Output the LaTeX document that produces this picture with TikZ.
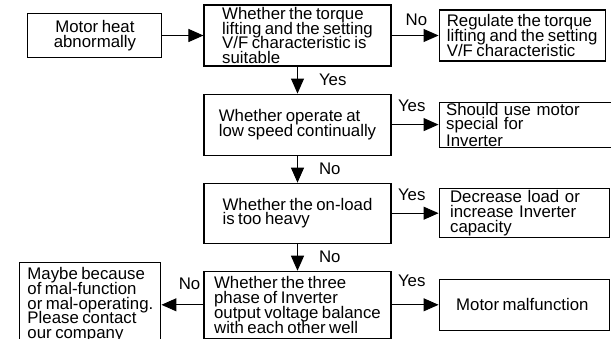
\documentclass[tikz,border=0pt]{standalone}
\usepackage{fontspec}
\setmainfont{Liberation Sans}[WordSpace=0.75]
\usetikzlibrary{positioning,arrows.meta}
\lineskiplimit=-20pt

\begin{document}
\begin{tikzpicture}[
    box/.style={draw, rectangle, line width=1.1pt, inner ysep=0pt, align=left, font=\fontsize{16.8}{14.8}\selectfont},
    lbl/.style={inner sep=1pt, font=\fontsize{16.8}{14.8}\selectfont},
    flow/.style={-{Triangle[length=15pt, width=13pt]}, line width=1pt},
    node distance=27pt and 47pt
]
    \path[use as bounding box, fill=white] (0,0) rectangle (611pt,-339pt);
    \node[box, minimum width=187pt, minimum height=61pt] (torque) at (297.5pt,-35.5pt) {
        Whether the torque\\lifting and the setting\\V/F characteristic is\\suitable
    };
    \node[box, align=center, minimum width=134pt, minimum height=44pt, left=41pt of torque] (heat) {
        Motor heat\\abnormally
    };
    \node[box, minimum width=166pt, minimum height=51pt, right=of torque] (regulate) {
        Regulate the torque\\lifting and the setting\\V/F characteristic
    };
    \node[box, minimum width=187pt, minimum height=61pt, below=of torque] (lowspeed) {
        Whether operate at\\low speed continually
    };
    \node[box, inner xsep=7pt, text width=158pt, minimum height=45pt, right=of lowspeed] (special) {
        Should use motor\\special for\\Inverter
    };
    \node[box, minimum width=187pt, minimum height=60pt, below=of lowspeed] (onload) {
        Whether the on-load\\is too heavy
    };
    \node[box, inner xsep=11pt, text width=148pt, minimum height=49pt, right=of onload] (decrease) {
        Decrease load or\\increase Inverter\\capacity
    };
    \node[box, minimum width=187pt, minimum height=67pt, below=of onload] (balance) {
        Whether the three\\phase of Inverter\\output voltage balance\\with each other well
    };
    \node[box, align=center, minimum width=170pt, minimum height=51pt, right=of balance] (malfunction) {
        Motor malfunction
    };
    \node[box, minimum width=141pt, minimum height=84pt, left=42pt of balance] (company) {
        Maybe because\\of mal-function\\or mal-operating.\\Please contact\\our company
    };

    \draw[flow] (heat) -- (torque);
    \draw[flow] (torque) -- node[lbl, above=8.5pt, pos=0.53] {No} (regulate);
    \draw[flow] (torque) -- node[lbl, right=20pt] {Yes} (lowspeed);
    \draw[flow] (lowspeed) -- node[lbl, above=11.5pt, pos=0.43] {Yes} (special);
    \draw[flow] (lowspeed) -- node[lbl, right=20pt] {No} (onload);
    \draw[flow] (onload) -- node[lbl, above=11pt, pos=0.43] {Yes} (decrease);
    \draw[flow] (onload) -- node[lbl, right=20pt] {No} (balance);
    \draw[flow] (balance) -- node[lbl, above=16.5pt, pos=0.43] {Yes} (malfunction);
    \draw[flow] (balance) -- node[lbl, above=13.5pt, pos=0.33] {No} (company);
\end{tikzpicture}
\end{document}
